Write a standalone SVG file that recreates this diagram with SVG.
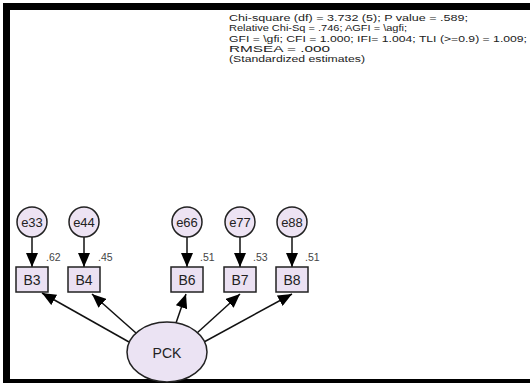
<svg xmlns="http://www.w3.org/2000/svg" width="530" height="383" viewBox="0 0 530 383">
<style>
.txt{font-family:"Liberation Sans",Arial,sans-serif;fill:#222}
.stat{font-size:9.6px}
.lab{font-size:13px;text-anchor:middle}
.ld{font-size:10.5px;fill:#444}
.err{fill:#ede3f3;stroke:#222;stroke-width:1.5}
.obs{fill:#ebe1f2;stroke:#222;stroke-width:1.5}
.lat{fill:#ebe3f3;stroke:#222;stroke-width:1.5}
.conn line{stroke:#111;stroke-width:1.5;marker-end:url(#ah)}
</style>
<defs>
<marker id="ah" viewBox="0 0 14 12" refX="14" refY="6" markerWidth="14" markerHeight="12" markerUnits="userSpaceOnUse" orient="auto">
<path d="M0,0 L14,6 L0,12 Z" fill="#000"/>
</marker>
</defs>
<rect width="530" height="383" fill="#fff"/>
<rect x="3" y="3" width="527" height="7" fill="#000"/>
<rect x="3" y="3" width="7" height="380" fill="#000"/>
<rect x="3" y="379" width="527" height="4" fill="#000"/>
<g id="stats" class="txt stat">
<text x="229" y="21" textLength="239" lengthAdjust="spacingAndGlyphs">Chi-square (df) = 3.732 (5);  P value = .589;</text>
<text x="229" y="31.3" textLength="178" lengthAdjust="spacingAndGlyphs">Relative Chi-Sq = .746; AGFI = \agfi;</text>
<text x="229" y="41.6" textLength="298" lengthAdjust="spacingAndGlyphs">GFI = \gfi; CFI = 1.000; IFI= 1.004; TLI (&gt;=0.9) = 1.009;</text>
<text x="229" y="51.9" textLength="101" lengthAdjust="spacingAndGlyphs">RMSEA = .000</text>
<text x="229" y="62.2" textLength="136" lengthAdjust="spacingAndGlyphs">(Standardized estimates)</text>
</g>
<g class="conn" id="connectors">
<line x1="32" y1="237" x2="32" y2="267"/>
<line x1="84" y1="237" x2="84" y2="267"/>
<line x1="187" y1="237" x2="187" y2="267"/>
<line x1="240" y1="237" x2="240" y2="267"/>
<line x1="292" y1="237" x2="292" y2="267"/>
<line x1="129" y1="342" x2="42" y2="293"/>
<line x1="136" y1="333" x2="92" y2="294"/>
<line x1="176" y1="323" x2="186" y2="294"/>
<line x1="197" y1="333" x2="240" y2="294"/>
<line x1="204" y1="342" x2="292" y2="294"/>
</g>
<g id="e33"><circle class="err" cx="32" cy="222" r="15"/><text class="txt lab" x="32" y="227">e33</text></g>
<g id="e44"><circle class="err" cx="84" cy="222" r="15"/><text class="txt lab" x="84" y="227">e44</text></g>
<g id="e66"><circle class="err" cx="187" cy="222" r="15"/><text class="txt lab" x="187" y="227">e66</text></g>
<g id="e77"><circle class="err" cx="240" cy="222" r="15"/><text class="txt lab" x="240" y="227">e77</text></g>
<g id="e88"><circle class="err" cx="292" cy="222" r="15"/><text class="txt lab" x="292" y="227">e88</text></g>
<g id="B3"><rect class="obs" x="16" y="267" width="32" height="25"/><text class="txt lab" x="32" y="284.5" style="font-size:14px">B3</text><text class="txt ld" x="46" y="261">.62</text></g>
<g id="B4"><rect class="obs" x="68" y="267" width="32" height="25"/><text class="txt lab" x="84" y="284.5" style="font-size:14px">B4</text><text class="txt ld" x="98" y="261">.45</text></g>
<g id="B6"><rect class="obs" x="171" y="267" width="32" height="25"/><text class="txt lab" x="187" y="284.5" style="font-size:14px">B6</text><text class="txt ld" x="200" y="261">.51</text></g>
<g id="B7"><rect class="obs" x="224" y="267" width="32" height="25"/><text class="txt lab" x="240" y="284.5" style="font-size:14px">B7</text><text class="txt ld" x="253" y="261">.53</text></g>
<g id="B8"><rect class="obs" x="276" y="267" width="32" height="25"/><text class="txt lab" x="292" y="284.5" style="font-size:14px">B8</text><text class="txt ld" x="305" y="261">.51</text></g>
<g id="PCK"><ellipse class="lat" cx="167" cy="352" rx="40" ry="30"/><text class="txt lab" x="167" y="358" style="font-size:14px">PCK</text></g>
</svg>
